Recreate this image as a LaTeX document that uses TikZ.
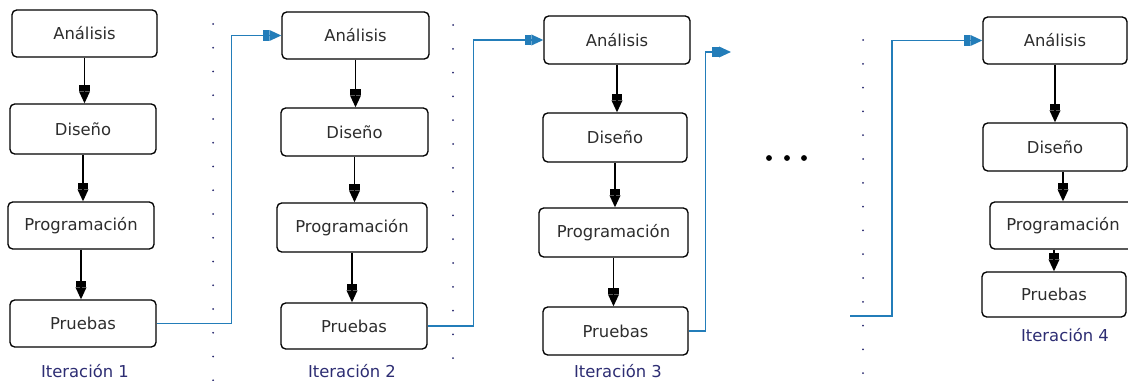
\documentclass[tikz,border=0pt]{standalone}
\usepackage{fontspec}
\setmainfont{DejaVu Sans}
\usetikzlibrary{arrows.meta}
\definecolor{txt}{RGB}{45,45,45}
\definecolor{itc}{RGB}{45,45,115}
\definecolor{conn}{RGB}{35,125,185}
\definecolor{dotc}{RGB}{40,40,110}
\begin{document}
\begin{tikzpicture}[x=0.75pt,y=-0.75pt,
  box/.style={draw=black, line width=1pt, rounded corners=3.5pt, text=txt,
    font=\fontsize{12.3}{14}\selectfont, inner sep=0pt},
  itlabel/.style={text=itc, font=\fontsize{12.3}{14}\selectfont, inner sep=0pt},
  darr/.style={draw=black, line width=1.2pt,
    -{Rectangle[width=8pt,length=5pt,sep=0pt]Triangle[width=8pt,length=9pt,sep=0pt]}},
  barr/.style={draw=conn, line width=1.2pt,
    -{Rectangle[width=8pt,length=5pt,sep=0pt]Triangle[width=8pt,length=9pt,sep=0pt]}},
  sepdot/.style={fill=dotc}]
\useasboundingbox (0,0) rectangle (1128,381);
\clip (0,0) rectangle (1128,381);

% Column 1
\node[box, minimum width=108.75pt, minimum height=35.25pt] (A1) at (84.5,33.5) {Análisis};
\node[box, minimum width=109.5pt, minimum height=37.5pt] (D1) at (83,129) {Diseño};
\node[box, minimum width=109.5pt, minimum height=35.25pt] (P1) at (81,225.5) {Programación};
\node[box, minimum width=109.5pt, minimum height=35.25pt] (T1) at (83,323.5) {Pruebas};
\node[itlabel] (I1) at (85,371) {Iteración 1};

% Column 2
\node[box, minimum width=110.25pt, minimum height=35.25pt] (A2) at (355.5,35.5) {Análisis};
\node[box, minimum width=110.25pt, minimum height=36pt] (D2) at (354.5,132) {Diseño};
\node[box, minimum width=112.5pt, minimum height=36.75pt] (P2) at (352,227.5) {Programación};
\node[box, minimum width=109.5pt, minimum height=34.5pt] (T2) at (354,326) {Pruebas};
\node[itlabel] (I2) at (352,371) {Iteración 2};

% Column 3
\node[box, minimum width=109.5pt, minimum height=36pt] (A3) at (617,40) {Análisis};
\node[box, minimum width=108pt, minimum height=36.75pt] (D3) at (615,137.5) {Diseño};
\node[box, minimum width=111.75pt, minimum height=36.75pt] (P3) at (613.5,232.5) {Programación};
\node[box, minimum width=108.75pt, minimum height=36pt] (T3) at (615.5,331) {Pruebas};
\node[itlabel] (I3) at (618,371) {Iteración 3};

% Column 4
\node[box, minimum width=108pt, minimum height=35.25pt] (A4) at (1055,40.5) {Análisis};
\node[box, minimum width=108pt, minimum height=36pt] (D4) at (1055,147) {Diseño};
\node[box, minimum width=109.5pt, minimum height=35.25pt] (P4) at (1063,225.5) {Programación};
\node[box, minimum width=108pt, minimum height=33.75pt] (T4) at (1054,294.5) {Pruebas};
\node[itlabel] (I4) at (1065,335) {Iteración 4};

% Vertical arrows
\draw[darr] (A1.south) -- (A1.south |- D1.north);
\draw[darr] (D1.south) -- (D1.south |- P1.north);
\draw[darr] (P1.south) -- (P1.south |- T1.north);
\draw[darr] (A2.south) -- (A2.south |- D2.north);
\draw[darr] (D2.south) -- (D2.south |- P2.north);
\draw[darr] (P2.south) -- (P2.south |- T2.north);
\draw[darr] (A3.south) -- (A3.south |- D3.north);
\draw[darr] (D3.south) -- (D3.south |- P3.north);
\draw[darr] (P3.south) -- (P3.south |- T3.north);
\draw[darr] (A4.south) -- (A4.south |- D4.north);
\draw[darr] (P4.north |- D4.south) -- (P4.north);
\draw[darr] (T4.north |- P4.south) -- (T4.north);

% Separator dots
\foreach \i in {0,...,15} \fill[sepdot] (213,{24+23.75*\i}) circle[radius=0.75pt];
\foreach \i in {0,...,14} \fill[sepdot] (453,{25+23.8*\i}) circle[radius=0.75pt];
\foreach \i in {0,...,14} \fill[sepdot] (863,{40+23.8*\i}) circle[radius=0.75pt];

% Ellipsis
\fill[black] (769,158) circle[radius=2.2pt];
\fill[black] (787,158) circle[radius=2.2pt];
\fill[black] (804,158) circle[radius=2.2pt];

% Blue connectors
\coordinate (e3) at (731,52);
\coordinate (s4) at (850,316);
\draw[barr] (T1.east) -- ++(75,0) |- (A2.west);
\draw[barr] (T2.east) -- ++(46,0) |- (A3.west);
\draw[barr] (T3.east) -- ++(17,0) |- (e3);
\draw[barr] (s4) -- ++(42,0) |- (A4.west);
\end{tikzpicture}
\end{document}
